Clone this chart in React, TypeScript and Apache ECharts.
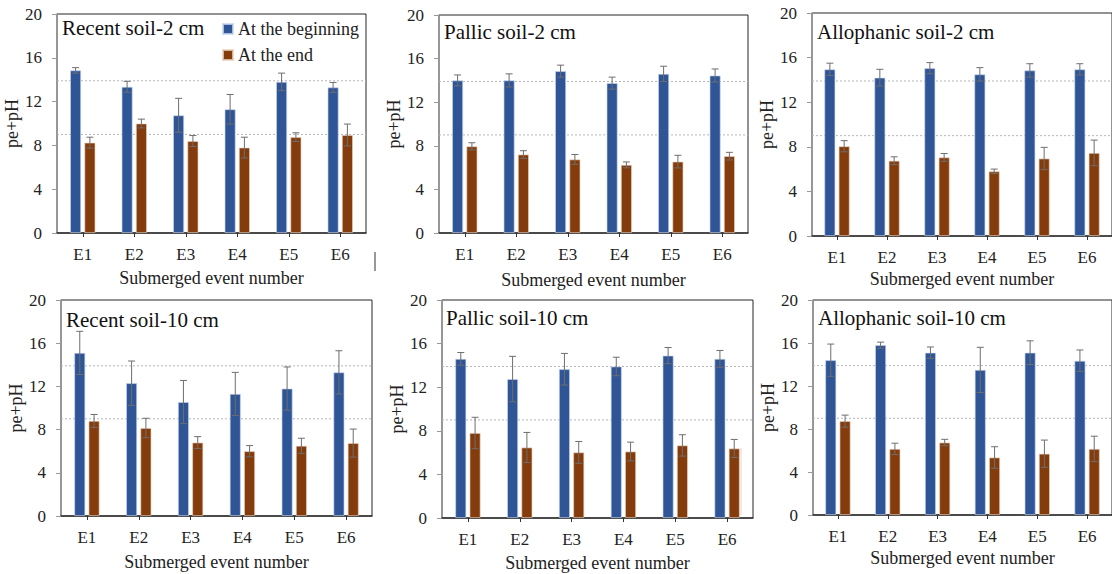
import React, { useEffect, useRef } from "react";
import * as echarts from "echarts";

const FONT = "Liberation Serif";

const CATEGORIES = ["E1", "E2", "E3", "E4", "E5", "E6"];
const SERIES_NAMES = ["At the beginning", "At the end"];
const Y_TICKS = { min: 0, max: 20, interval: 4 };
const REF_LINES = [13.9, 9.0];

// Recent soil - 2 cm
const R2_BEGIN = [14.85, 13.35, 10.75, 11.3, 13.8, 13.3];
const R2_BEGIN_ERR = [0.25, 0.5, 1.55, 1.35, 0.8, 0.45];
const R2_END = [8.25, 10.0, 8.4, 7.8, 8.75, 8.95];
const R2_END_ERR = [0.5, 0.4, 0.5, 0.95, 0.4, 1.0];

// Pallic soil - 2 cm
const P2_BEGIN = [14.0, 14.0, 14.85, 13.75, 14.6, 14.45];
const P2_BEGIN_ERR = [0.5, 0.6, 0.55, 0.55, 0.7, 0.6];
const P2_END = [7.95, 7.2, 6.75, 6.25, 6.55, 7.05];
const P2_END_ERR = [0.33, 0.35, 0.45, 0.27, 0.58, 0.35];

// Allophanic soil - 2 cm
const A2_BEGIN = [14.95, 14.2, 15.05, 14.5, 14.85, 14.95];
const A2_BEGIN_ERR = [0.55, 0.75, 0.5, 0.6, 0.6, 0.5];
const A2_END = [8.05, 6.75, 7.05, 5.8, 6.95, 7.45];
const A2_END_ERR = [0.5, 0.35, 0.35, 0.2, 1.0, 1.15];

// Recent soil - 10 cm
const R10_BEGIN = [15.1, 12.3, 10.55, 11.3, 11.8, 13.3];
const R10_BEGIN_ERR = [2.0, 2.05, 2.0, 2.0, 2.0, 2.0];
const R10_END = [8.8, 8.15, 6.8, 6.0, 6.5, 6.75];
const R10_END_ERR = [0.6, 0.9, 0.55, 0.52, 0.7, 1.3];

// Pallic soil - 10 cm
const P10_BEGIN = [14.6, 12.75, 13.65, 13.9, 14.9, 14.6];
const P10_BEGIN_ERR = [0.58, 2.08, 1.45, 0.85, 0.74, 0.77];
const P10_END = [7.8, 6.47, 6.02, 6.1, 6.66, 6.38];
const P10_END_ERR = [1.44, 1.38, 1.0, 0.86, 0.98, 0.83];

// Allophanic soil - 10 cm
const A10_BEGIN = [14.4, 15.8, 15.1, 13.5, 15.1, 14.35];
const A10_BEGIN_ERR = [1.5, 0.28, 0.53, 2.1, 1.1, 1.0];
const A10_END = [8.73, 6.15, 6.74, 5.35, 5.7, 6.15];
const A10_END_ERR = [0.56, 0.53, 0.3, 1.0, 1.27, 1.18];

const PANELS = [
  { title: "Recent soil-2 cm", begin: R2_BEGIN, beginErr: R2_BEGIN_ERR, end: R2_END, endErr: R2_END_ERR },
  { title: "Pallic soil-2 cm", begin: P2_BEGIN, beginErr: P2_BEGIN_ERR, end: P2_END, endErr: P2_END_ERR },
  { title: "Allophanic soil-2 cm", begin: A2_BEGIN, beginErr: A2_BEGIN_ERR, end: A2_END, endErr: A2_END_ERR },
  { title: "Recent soil-10 cm", begin: R10_BEGIN, beginErr: R10_BEGIN_ERR, end: R10_END, endErr: R10_END_ERR },
  { title: "Pallic soil-10 cm", begin: P10_BEGIN, beginErr: P10_BEGIN_ERR, end: P10_END, endErr: P10_END_ERR },
  { title: "Allophanic soil-10 cm", begin: A10_BEGIN, beginErr: A10_BEGIN_ERR, end: A10_END, endErr: A10_END_ERR },
];

// layout (pixels)
const LAYOUT = [
  { left: 57, top: 14, width: 309, height: 219, tx: 62, ty: 28, xGap: 36, yGap: 31 },
  { left: 439, top: 15, width: 309, height: 218, tx: 444, ty: 32, xGap: 38, yGap: 33 },
  { left: 812, top: 13, width: 310, height: 223, tx: 817, ty: 32, xGap: 34, yGap: 35 },
  { left: 61, top: 300, width: 311, height: 216, tx: 66, ty: 320, xGap: 37, yGap: 35 },
  { left: 442, top: 300, width: 311, height: 218, tx: 446, ty: 318, xGap: 36, yGap: 35 },
  { left: 813, top: 300, width: 310, height: 215, tx: 818, ty: 318, xGap: 34, yGap: 35 },
];

const BLUE = "#2F5597";
const BROWN = "#843C0C";
const BAR_W = 11;
const BAR_GAP = 0.3;
const OFFSET = (BAR_W * (1 + BAR_GAP)) / 2;

function errorRender(params: any, api: any) {
  const x = api.value(0);
  const v = api.value(1);
  const e = api.value(2);
  const off = api.value(3);
  const top = api.coord([x, v + e]);
  const bot = api.coord([x, v - e]);
  const cx = top[0] + off;
  const style = { stroke: "#6e6e6e", lineWidth: 1 };
  return {
    type: "group",
    children: [
      { type: "line", shape: { x1: cx, y1: top[1], x2: cx, y2: bot[1] }, style },
      { type: "line", shape: { x1: cx - 3.5, y1: top[1], x2: cx + 3.5, y2: top[1] }, style },
      { type: "line", shape: { x1: cx - 3.5, y1: bot[1], x2: cx + 3.5, y2: bot[1] }, style },
    ],
  };
}

function refRender(params: any, api: any) {
  const p = api.coord([0, api.value(1)]);
  const cs = params.coordSys as any;
  return {
    type: "line",
    shape: { x1: cs.x, y1: p[1], x2: cs.x + cs.width, y2: p[1] },
    style: { stroke: "#b5b5b5", lineWidth: 1, lineDash: [2, 2] },
  };
}

function buildOption() {
  const grid: any[] = [];
  const xAxis: any[] = [];
  const yAxis: any[] = [];
  const series: any[] = [];
  const graphic: any[] = [];

  PANELS.forEach((p, i) => {
    const L = LAYOUT[i];
    grid.push({
      left: L.left, top: L.top, width: L.width, height: L.height,
      show: true, borderColor: "#262626", borderWidth: 1, backgroundColor: "transparent",
    });
    xAxis.push({
      type: "category",
      gridIndex: i,
      data: CATEGORIES,
      axisLine: { show: true, lineStyle: { color: "#333", width: 1.5 } },
      axisTick: { show: true, alignWithLabel: true, length: 4, lineStyle: { color: "#333" } },
      axisLabel: { fontFamily: FONT, fontSize: 17, color: "#222", margin: 13 },
      name: "Submerged event number",
      nameLocation: "middle",
      nameGap: L.xGap,
      nameTextStyle: { fontFamily: FONT, fontSize: 18, color: "#222" },
      splitLine: { show: false },
    });
    yAxis.push({
      type: "value",
      gridIndex: i,
      min: Y_TICKS.min, max: Y_TICKS.max, interval: Y_TICKS.interval,
      axisLine: { show: true, lineStyle: { color: "#999", width: 1.5 } },
      axisTick: { show: true, length: 5, lineStyle: { color: "#999" } },
      splitLine: { show: false },
      axisLabel: { fontFamily: FONT, fontSize: 17, color: "#222", margin: 15 },
      name: "pe+pH",
      nameLocation: "middle",
      nameGap: L.yGap,
      nameRotate: 90,
      nameTextStyle: { fontFamily: FONT, fontSize: 18, color: "#222" },
    });
    series.push({
      type: "custom", name: "ref" + i, xAxisIndex: i, yAxisIndex: i, z: 1, silent: true,
      renderItem: refRender, encode: { x: 0, y: 1 },
      data: REF_LINES.map((v) => [0, v]),
    });
    series.push({
      type: "bar", name: SERIES_NAMES[0], xAxisIndex: i, yAxisIndex: i, z: 2,
      barWidth: BAR_W, barGap: BAR_GAP * 100 + "%",
      itemStyle: { color: BLUE, borderColor: "rgba(200,215,240,0.8)", borderWidth: 0.8 },
      data: p.begin,
    });
    series.push({
      type: "bar", name: SERIES_NAMES[1], xAxisIndex: i, yAxisIndex: i, z: 2,
      barWidth: BAR_W, barGap: BAR_GAP * 100 + "%",
      itemStyle: { color: BROWN, borderColor: "rgba(235,210,190,0.8)", borderWidth: 0.8 },
      data: p.end,
    });
    series.push({
      type: "custom", name: "err" + i, xAxisIndex: i, yAxisIndex: i, z: 5, silent: true,
      renderItem: errorRender, encode: { x: 0, y: 1 },
      data: [
        ...CATEGORIES.map((_, k) => [k, p.begin[k], p.beginErr[k], -OFFSET]),
        ...CATEGORIES.map((_, k) => [k, p.end[k], p.endErr[k], OFFSET]),
      ],
    });
    graphic.push({
      type: "text", x: L.tx, y: L.ty, z: 10,
      style: { text: p.title, fontFamily: FONT, fontSize: 21, fill: "#111", verticalAlign: "middle", align: "left" },
    });
  });

  graphic.push({ type: "line", shape: { x1: 375, y1: 252, x2: 375, y2: 271 }, style: { stroke: "#333", lineWidth: 1 } });
  graphic.push({ type: "line", shape: { x1: 741, y1: 448, x2: 741, y2: 515 }, style: { stroke: "#e4d6c6", lineWidth: 1 } });

  return {
    animation: false,
    backgroundColor: "#fff",
    textStyle: { fontFamily: FONT },
    legend: {
      data: SERIES_NAMES, orient: "vertical", left: 217, top: 15,
      itemWidth: 10, itemHeight: 10, itemGap: 8, icon: "rect", selectedMode: false,
      textStyle: { fontFamily: FONT, fontSize: 18, color: "#222" },
    },
    grid, xAxis, yAxis, series, graphic,
  };
}

export default function App() {
  const ref = useRef<HTMLDivElement>(null);
  useEffect(() => {
    const chart = echarts.init(ref.current!, null, { renderer: "svg" });
    chart.setOption(buildOption() as any);
    return () => chart.dispose();
  }, []);
  return (
    <div ref={ref} style={{ position: "fixed", left: 0, top: 0, width: 1112, height: 574, background: "#fff" }} />
  );
}
